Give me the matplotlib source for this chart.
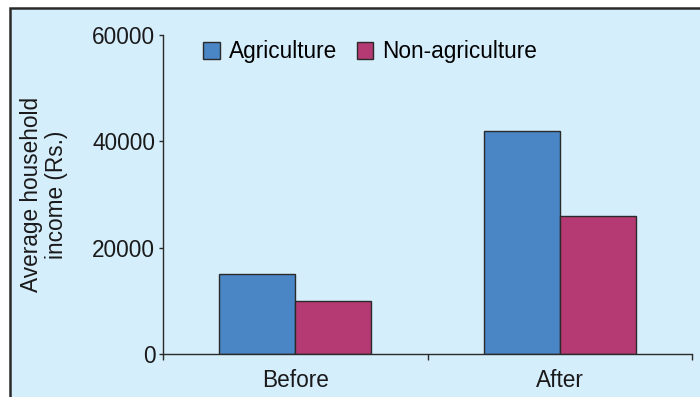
import matplotlib.pyplot as plt
from matplotlib.patches import Rectangle
import numpy as np

periods = ["Before", "After"]
agriculture = [15000, 42000]
non_agriculture = [10000, 26000]
y_ticks = [0, 20000, 40000, 60000]

BG = "#d5eefc"
BLUE = "#4a86c5"
MAGENTA = "#b53a73"
EDGE = "#2a2a2a"
FS = 16.3

plt.rcParams["font.family"] = ["Liberation Sans", "DejaVu Sans"]

fig = plt.figure(figsize=(7, 3.97), dpi=100)
fig.patch.set_facecolor("white")
# light blue panel with a dark frame on the left and top
fig.patches.append(Rectangle((10 / 700, -0.05), 1.2, 1.05 - 8 / 397,
                             transform=fig.transFigure, facecolor=BG,
                             edgecolor=EDGE, linewidth=1.8, zorder=-5))

ax = fig.add_axes([163 / 700, 43 / 397, 529 / 700, 319 / 397])
ax.set_facecolor("none")

x = np.arange(len(periods))
w = 0.288
ax.bar(x - w / 2, agriculture, w, color=BLUE, edgecolor=EDGE, linewidth=1,
       label="Agriculture")
ax.bar(x + w / 2, non_agriculture, w, color=MAGENTA, edgecolor=EDGE,
       linewidth=1, label="Non-agriculture")

ax.set_xlim(-0.5, 1.5)
ax.set_ylim(0, 60000)
ax.set_yticks(y_ticks)
ax.set_yticklabels([str(v) for v in y_ticks])
ax.set_xticks(x)
ax.set_xticklabels(periods)
ax.set_xticks([-0.5, 0.5, 1.5], minor=True)
ax.tick_params(axis="x", which="major", length=0, pad=11, labelsize=FS,
               colors="#1a1a1a")
ax.tick_params(axis="x", which="minor", length=4, width=1, color=EDGE)
ax.tick_params(axis="y", length=3, width=1, pad=2.5, labelsize=FS,
               color=EDGE, labelcolor="#1a1a1a")

for side in ["top", "right"]:
    ax.spines[side].set_visible(False)
for side in ["left", "bottom"]:
    ax.spines[side].set_color(EDGE)
    ax.spines[side].set_linewidth(1)

ax.set_ylabel("Average household\nincome (Rs.)", fontsize=FS,
              color="#1a1a1a", linespacing=1.1)
ax.yaxis.set_label_coords((68 - 163) / 529, 0.5)

ax.legend(loc="center left", bbox_to_anchor=(0.0756, 0.947), ncol=2,
          frameon=False, fontsize=FS, borderpad=0, borderaxespad=0,
          handlelength=0.75, handleheight=0.75, handletextpad=0.4,
          columnspacing=0.85)

fig.savefig("out.png", dpi=100)
